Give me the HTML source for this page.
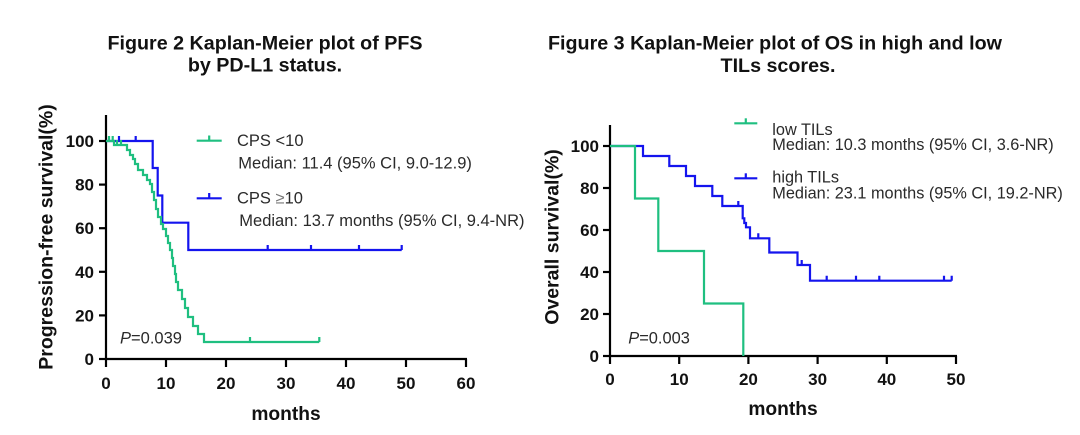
<!DOCTYPE html>
<html>
<head>
<meta charset="utf-8">
<style>
  html, body { margin:0; padding:0; background:#ffffff; }
  svg { display:block; }
  .t { font-family:"Liberation Sans", Arial, sans-serif; }
</style>
</head>
<body>
<svg width="1080" height="435" viewBox="0 0 1080 435" xmlns="http://www.w3.org/2000/svg">
  <rect width="1080" height="435" fill="#ffffff"/>

  <!-- Titles -->
  <g class="t" font-weight="bold" font-size="19.7" fill="#111" text-anchor="middle">
    <text x="265" y="49.5">Figure 2 Kaplan-Meier plot of PFS</text>
    <text x="265" y="71.5">by PD-L1 status.</text>
    <text x="775" y="49.5">Figure 3 Kaplan-Meier plot of OS in high and low</text>
    <text x="778" y="72">TILs scores.</text>
  </g>

  <!-- ================= LEFT PLOT ================= -->
  <g stroke="#000" stroke-width="2.2" fill="none">
    <line x1="106" y1="115" x2="106" y2="360"/>
    <line x1="105" y1="359" x2="467" y2="359"/>
    <!-- y ticks -->
    <line x1="99" y1="141" x2="106" y2="141"/>
    <line x1="99" y1="184.6" x2="106" y2="184.6"/>
    <line x1="99" y1="228.2" x2="106" y2="228.2"/>
    <line x1="99" y1="271.8" x2="106" y2="271.8"/>
    <line x1="99" y1="315.4" x2="106" y2="315.4"/>
    <line x1="99" y1="359" x2="106" y2="359"/>
    <!-- x ticks -->
    <line x1="106" y1="359" x2="106" y2="367"/>
    <line x1="166" y1="359" x2="166" y2="367"/>
    <line x1="226" y1="359" x2="226" y2="367"/>
    <line x1="286" y1="359" x2="286" y2="367"/>
    <line x1="346" y1="359" x2="346" y2="367"/>
    <line x1="406" y1="359" x2="406" y2="367"/>
    <line x1="466" y1="359" x2="466" y2="367"/>
  </g>
  <g class="t" font-weight="bold" font-size="17" fill="#111">
    <g text-anchor="end">
      <text x="94" y="147">100</text>
      <text x="94" y="190.6">80</text>
      <text x="94" y="234.2">60</text>
      <text x="94" y="277.8">40</text>
      <text x="94" y="321.4">20</text>
      <text x="94" y="365">0</text>
    </g>
    <g text-anchor="middle">
      <text x="106" y="389">0</text>
      <text x="166" y="389">10</text>
      <text x="226" y="389">20</text>
      <text x="286" y="389">30</text>
      <text x="346" y="389">40</text>
      <text x="406" y="389">50</text>
      <text x="466" y="389">60</text>
    </g>
    <text x="286" y="420" text-anchor="middle" font-size="19.2">months</text>
    <text transform="translate(52.5,237) rotate(-90)" text-anchor="middle" font-size="19.5">Progression-free survival(%)</text>
  </g>

  <!-- blue CPS >=10 -->
  <g stroke="#1414ee" stroke-width="2.2" fill="none">
    <path d="M106,141 H152.7 V168 H157.7 V195.5 H162.3 V222.7 H188.3 V250 H401.7"/>
    <path d="M119,141 V136 M135.7,141 V136 M267.7,250 V245 M311,250 V245 M359,250 V245 M401.7,250 V245"/>
  </g>
  <!-- green CPS <10 -->
  <g stroke="#1fbf80" stroke-width="2.2" fill="none">
    <path d="M106,141 H114 V145 H127 V150 H130 V155 H133 V159 H135 V164 H138 V170 H143 V175 H147 V180 H150 V184 H152 V192 H154 V200 H156 V209 H158 V217 H161 V224 H163 V229 H166 V236 H168 V243 H170 V250 H172 V258 H173 V266 H175 V274 H176 V282 H178 V290 H182 V299 H185 V308 H188 V317 H193 V326 H198 V334 H204 V342 H319.3"/>
    <path d="M109,141 V136 M112.7,141 V136 M117,145 V140 M121,145 V140 M250,342 V337 M319.3,342 V337"/>
  </g>

  <!-- left legend -->
  <line x1="196.7" y1="140.7" x2="221.7" y2="140.7" stroke="#1fbf80" stroke-width="2.2"/>
  <line x1="209.2" y1="140.7" x2="209.2" y2="135.5" stroke="#1fbf80" stroke-width="2.2"/>
  <line x1="196.7" y1="198.3" x2="221.7" y2="198.3" stroke="#1414ee" stroke-width="2.2"/>
  <line x1="209.2" y1="198.3" x2="209.2" y2="193" stroke="#1414ee" stroke-width="2.2"/>
  <g class="t" font-size="16.5" fill="#2a2a2a">
    <text x="237" y="146">CPS &lt;10</text>
    <text x="238.3" y="168.3">Median: 11.4 (95% CI, 9.0-12.9)</text>
    <text x="237" y="203.3">CPS <tspan fill="#777">≥</tspan>10</text>
    <text x="239.3" y="226">Median: 13.7 months (95% CI, 9.4-NR)</text>
    <text x="120" y="343.3"><tspan font-style="italic">P</tspan>=0.039</text>
  </g>

  <!-- ================= RIGHT PLOT ================= -->
  <g stroke="#000" stroke-width="2.2" fill="none">
    <line x1="610" y1="125" x2="610" y2="357"/>
    <line x1="609" y1="356" x2="957" y2="356"/>
    <line x1="603" y1="146" x2="610" y2="146"/>
    <line x1="603" y1="188" x2="610" y2="188"/>
    <line x1="603" y1="230" x2="610" y2="230"/>
    <line x1="603" y1="272" x2="610" y2="272"/>
    <line x1="603" y1="314" x2="610" y2="314"/>
    <line x1="603" y1="356" x2="610" y2="356"/>
    <line x1="610" y1="356" x2="610" y2="364"/>
    <line x1="679.2" y1="356" x2="679.2" y2="364"/>
    <line x1="748.4" y1="356" x2="748.4" y2="364"/>
    <line x1="817.6" y1="356" x2="817.6" y2="364"/>
    <line x1="886.8" y1="356" x2="886.8" y2="364"/>
    <line x1="956" y1="356" x2="956" y2="364"/>
  </g>
  <g class="t" font-weight="bold" font-size="17" fill="#111">
    <g text-anchor="end">
      <text x="599" y="152">100</text>
      <text x="599" y="194">80</text>
      <text x="599" y="236">60</text>
      <text x="599" y="278">40</text>
      <text x="599" y="320">20</text>
      <text x="599" y="362">0</text>
    </g>
    <g text-anchor="middle">
      <text x="610" y="385">0</text>
      <text x="679.2" y="385">10</text>
      <text x="748.4" y="385">20</text>
      <text x="817.6" y="385">30</text>
      <text x="886.8" y="385">40</text>
      <text x="956" y="385">50</text>
    </g>
    <text x="783" y="415" text-anchor="middle" font-size="19.2">months</text>
    <text transform="translate(558.5,237) rotate(-90)" text-anchor="middle" font-size="19.5">Overall survival(%)</text>
  </g>

  <!-- blue high TILs -->
  <g stroke="#1414ee" stroke-width="2.2" fill="none">
    <path d="M610,146 H643 V156 H669.3 V166 H686 V176 H695 V186 H712.3 V196 H722.3 V206 H742.7 V218.3 H744.3 V223 H746 V227.3 H750 V238.3 H769.3 V252.5 H797.5 V265 H810 V280.7 H951.7"/>
    <path d="M738.3,206 V201 M758.3,238.3 V233.3 M801.7,265 V260 M826.7,280.7 V275.7 M856,280.7 V275.7 M879.3,280.7 V275.7 M944,280.7 V275.7 M951.7,280.7 V275.7"/>
  </g>
  <!-- green low TILs -->
  <g stroke="#1fbf80" stroke-width="2.2" fill="none">
    <path d="M610,146 H635 V198.5 H658.3 V251 H704 V303.5 H743.3 V356"/>
  </g>

  <!-- right legend -->
  <line x1="734.3" y1="123.3" x2="757.3" y2="123.3" stroke="#1fbf80" stroke-width="2.2"/>
  <line x1="745.8" y1="123.3" x2="745.8" y2="118.3" stroke="#1fbf80" stroke-width="2.2"/>
  <line x1="734.3" y1="178.3" x2="757.3" y2="178.3" stroke="#1414ee" stroke-width="2.2"/>
  <line x1="745.8" y1="178.3" x2="745.8" y2="173.3" stroke="#1414ee" stroke-width="2.2"/>
  <g class="t" font-size="16.3" fill="#2a2a2a">
    <text x="772.3" y="135">low TILs</text>
    <text x="772.3" y="150">Median: 10.3 months (95% CI, 3.6-NR)</text>
    <text x="772.3" y="182.7">high TILs</text>
    <text x="772.3" y="198.3">Median: 23.1 months (95% CI, 19.2-NR)</text>
    <text x="628.3" y="343.3" font-size="16.4"><tspan font-style="italic">P</tspan>=0.003</text>
  </g>
</svg>
</body>
</html>
